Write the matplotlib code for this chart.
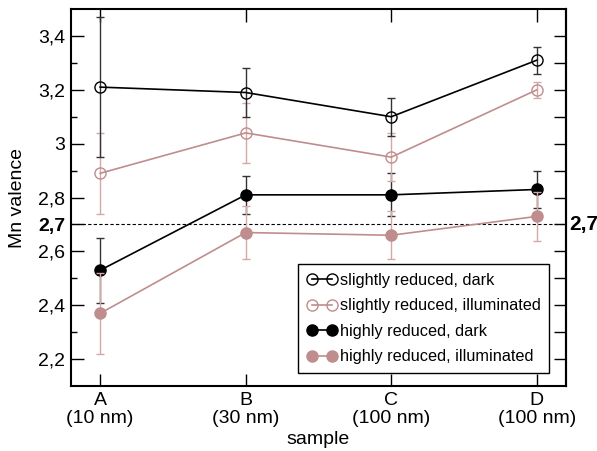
import numpy as np
import matplotlib
matplotlib.use('Agg')
import matplotlib.pyplot as plt
from matplotlib.lines import Line2D

plt.rcParams['font.family'] = ['Liberation Sans', 'DejaVu Sans']

# data
samples = ['A\n(10 nm)', 'B\n(30 nm)', 'C\n(100 nm)', 'D\n(100 nm)']
slight_dark = [3.21, 3.19, 3.10, 3.31]
slight_dark_err = [0.26, 0.09, 0.07, 0.05]
slight_illum = [2.89, 3.04, 2.95, 3.20]
slight_illum_err = [0.15, 0.11, 0.09, 0.03]
high_dark = [2.53, 2.81, 2.81, 2.83]
high_dark_err = [0.12, 0.07, 0.08, 0.07]
high_illum = [2.37, 2.67, 2.66, 2.73]
high_illum_err = [0.15, 0.10, 0.09, 0.09]
ref_level = 2.7
ytick_vals = [2.2, 2.4, 2.6, 2.7, 2.8, 3.0, 3.2, 3.4]
ytick_labels = ['2,2', '2,4', '2,6', '2,7', '2,8', '3', '3,2', '3,4']

BLACK = '#000000'
PINK = '#bf8d8d'
PINK_ERR = '#d2a8a8'
BLACK_ERR = '#333333'

fig = plt.figure(figsize=(5.97, 4.51), dpi=100)
ax = fig.add_axes([0.119, 0.144, 0.829, 0.836])
x = np.arange(len(samples))

ax.axhline(ref_level, color='black', linestyle='--', linewidth=0.8, dashes=(3, 2), zorder=1)

common = dict(capsize=3, elinewidth=1.0, capthick=1.0, linewidth=1.2, markersize=8)
ax.errorbar(x, high_dark, yerr=high_dark_err, fmt='-o', color=BLACK, ecolor=BLACK_ERR,
            mfc=BLACK, mec=BLACK, zorder=3, **common)
ax.errorbar(x, high_illum, yerr=high_illum_err, fmt='-o', color=PINK, ecolor=PINK_ERR,
            mfc=PINK, mec=PINK, zorder=4, **common)
ax.errorbar(x, slight_illum, yerr=slight_illum_err, fmt='-o', color=PINK, ecolor=PINK_ERR,
            mfc='none', mec=PINK, zorder=4, **common)
ax.errorbar(x, slight_dark, yerr=slight_dark_err, fmt='-o', color=BLACK, ecolor=BLACK_ERR,
            mfc='none', mec=BLACK, zorder=5, **common)

ax.set_xlim(-0.2, 3.2)
ax.set_ylim(2.1, 3.5)
ax.set_xticks(x)
ax.set_xticklabels(samples, fontsize=14, linespacing=1.1)
ax.set_yticks(ytick_vals)
ax.set_yticklabels(ytick_labels, fontsize=14)
for lab in ax.get_yticklabels():
    if lab.get_text() == '2,7':
        lab.set_fontweight('bold')
ax.set_yticks(np.arange(2.2, 3.45, 0.1), minor=True)
ax.tick_params(axis='y', which='major', direction='in', length=9, width=1, right=False, pad=4)
ax.tick_params(axis='y', which='minor', direction='in', length=4, width=1, right=False)
ax.tick_params(axis='x', which='major', direction='in', length=9, width=1, top=True, pad=4)

# right side: ticks every 0.1, no labels
sec = ax.secondary_yaxis('right')
sec.set_yticks(np.arange(2.2, 3.45, 0.1))
sec.set_yticklabels([])
sec.tick_params(direction='in', length=9, width=1)
sec.spines['right'].set_linewidth(1.5)

for s in ax.spines.values():
    s.set_linewidth(1.5)

ax.text(1.006, ref_level, '2,7', transform=ax.get_yaxis_transform(), ha='left', va='center',
        fontsize=15, fontweight='bold')

ax.set_ylabel('Mn valence', fontsize=14, labelpad=9)
ax.set_xlabel('sample', fontsize=14, labelpad=3)

handles = [
    Line2D([], [], color=BLACK, marker='o', mfc='none', mec=BLACK, markersize=8, linewidth=1.2),
    Line2D([], [], color=PINK, marker='o', mfc='none', mec=PINK, markersize=8, linewidth=1.2),
    Line2D([], [], color=BLACK, marker='o', mfc=BLACK, mec=BLACK, markersize=8, linewidth=1.2),
    Line2D([], [], color=PINK, marker='o', mfc=PINK, mec=PINK, markersize=8, linewidth=1.2),
]
labels = ['slightly reduced, dark', 'slightly reduced, illuminated',
          'highly reduced, dark', 'highly reduced, illuminated']
leg = ax.legend(handles, labels, loc='lower left', bbox_to_anchor=(0.459, 0.034),
                numpoints=2, handlelength=1.85, handletextpad=0.15, fontsize=11.7,
                fancybox=False, borderpad=0.55, labelspacing=0.64, borderaxespad=0,
                framealpha=1)
leg.get_frame().set_edgecolor('black')
leg.get_frame().set_linewidth(1.0)

fig.savefig('out.png', dpi=100)
